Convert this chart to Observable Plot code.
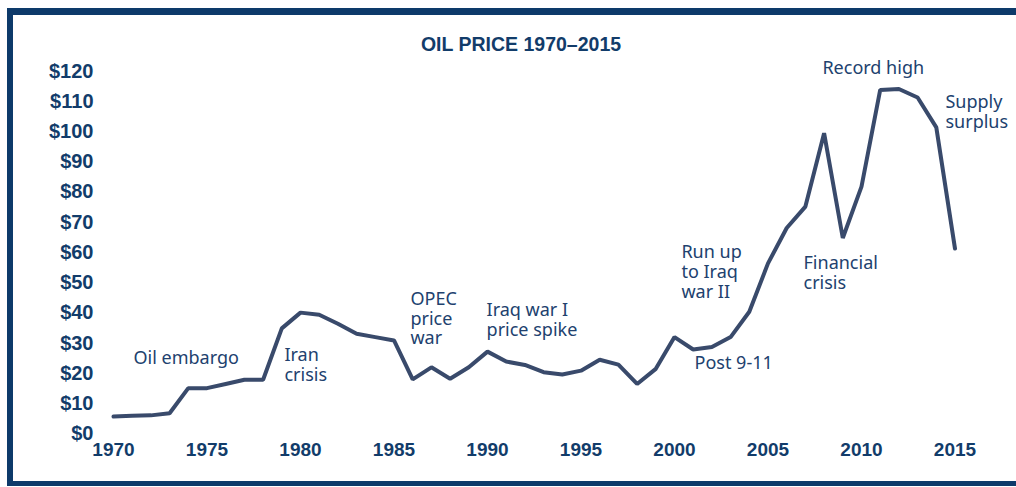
<!DOCTYPE html>
<html><head><meta charset="utf-8">
<script src="https://cdn.jsdelivr.net/npm/d3@7"></script>
<script src="https://cdn.jsdelivr.net/npm/@observablehq/plot@0.6"></script>
<style>
body{margin:0;background:#fff;}
#wrap{position:relative;width:1016px;height:487px;overflow:hidden;background:#fff;}
#chart{position:absolute;left:0;top:0;}
#frame{position:absolute;left:7px;top:8px;right:0;bottom:1px;border-top:7px solid #0d3a6a;border-left:6px solid #0d3a6a;border-bottom:5px solid #0d3a6a;pointer-events:none;}
#title{position:absolute;left:0;width:1042px;top:34.5px;line-height:1;text-align:center;font-family:"Liberation Sans",Arial,sans-serif;font-weight:bold;font-size:19.5px;color:#123c6a;}
</style></head>
<body>
<div id="wrap">
  <div id="chart"></div>
  <div id="title">OIL PRICE 1970–2015</div>
  <div id="frame"></div>
</div>
<script>
const years = [1970,1971,1972,1973,1974,1975,1976,1977,1978,1979,
               1980,1981,1982,1983,1984,1985,1986,1987,1988,1989,
               1990,1991,1992,1993,1994,1995,1996,1997,1998,1999,
               2000,2001,2002,2003,2004,2005,2006,2007,2008,2009,
               2010,2011,2012,2013,2014,2015];
const prices = [5.7,6.0,6.1,6.8,15.1,15.1,16.5,17.9,17.9,34.9,
                40.1,39.4,36.4,33.1,32.0,30.9,18.0,22.0,18.2,22.0,
                27.2,23.9,22.8,20.4,19.6,20.9,24.5,22.9,16.5,21.5,
                32.0,27.9,28.7,32.0,40.4,56.4,68.1,75.2,99.5,64.8,
                81.8,113.8,114.1,111.3,101.4,61.3];
const xTicks = [1970,1975,1980,1985,1990,1995,2000,2005,2010,2015];
const yTicks = [0,10,20,30,40,50,60,70,80,90,100,110,120];

const annotLabels = ["Oil embargo","Iran\ncrisis","OPEC\nprice\nwar","Iraq war I\nprice spike","Post 9-11","Run up\nto Iraq\nwar II","Financial\ncrisis","Record high","Supply\nsurplus"];
const annotYears  = [1971.07,1979.14,1985.88,1989.95,2001.07,2000.37,2006.9,2007.91,2014.49];
const annotValues = [25.2,22.9,38.2,37.7,23.6,53.7,53.2,121.2,106.5];

const rows = years.map((year,i)=>({year, price: prices[i]}));
const annots = annotLabels.map((label,i)=>({label, year: annotYears[i], value: annotValues[i]}));

const tickColor = "#123c6a";
const chart = Plot.plot({
  width: 1016, height: 487,
  marginLeft: 113, marginRight: 61.5, marginTop: 70.7, marginBottom: 53.7,
  x: {domain: [1970, 2015]},
  y: {domain: [0, 120]},
  style: {fontFamily: "'Liberation Sans', Arial, sans-serif", background: "transparent"},
  marks: [
    Plot.axisY(yTicks, {tickSize: 0, tickPadding: 20, tickFormat: d => "$" + d, fontSize: 20, fontWeight: "bold", color: tickColor, label: null}),
    Plot.axisX(xTicks, {tickSize: 0, tickPadding: 9, tickFormat: d => String(d), fontSize: 19, fontWeight: "bold", color: tickColor, label: null}),
    Plot.line(rows, {x: "year", y: "price", stroke: "#394a6b", strokeWidth: 4, strokeLinejoin: "miter"}),
    Plot.text(annots, {x: "year", y: "value", text: "label", textAnchor: "start", lineAnchor: "middle", fontSize: 18, lineHeight: 1.1, fill: "#21416e", fontFamily: "'Noto Sans', sans-serif"})
  ]
});
document.getElementById("chart").appendChild(chart);
</script>
</body></html>
